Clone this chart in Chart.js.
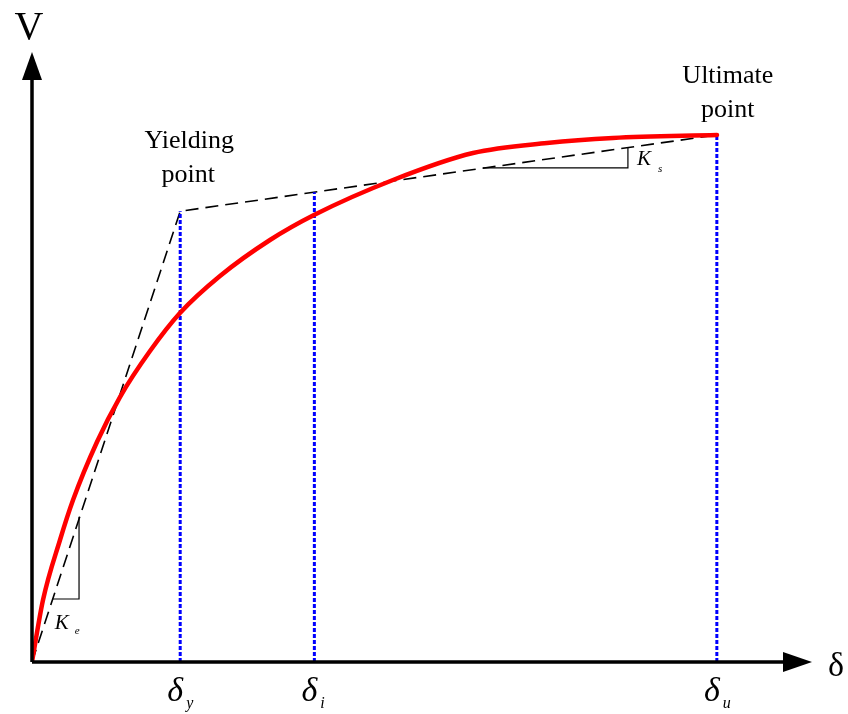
<!DOCTYPE html>
<html>
<head>
<meta charset="utf-8">
<script src="https://cdn.jsdelivr.net/npm/chart.js@4.4.1/dist/chart.umd.min.js"></script>
<style>
  html, body { margin: 0; padding: 0; background: #ffffff; }
  #wrap { width: 848px; height: 714px; position: relative; }
</style>
</head>
<body>
<div id="wrap"><canvas id="c" width="848" height="714"></canvas></div>
<script>
// ---- data (schematic units: delta 0..100, V 0..100) ----
const curveDelta = [0, 1.41, 3.59, 5.26, 8.33, 11.28, 15.13, 18.97, 24.10, 30.51, 36.15, 46.28, 56.54, 66.03, 74.49, 87.82];
const curveV     = [0, 10.16, 20.0, 26.56, 36.07, 43.44, 50.98, 57.21, 63.28, 69.18, 73.28, 79.02, 83.44, 85.08, 85.90, 86.39];

const bilinDelta = [0, 19.0, 87.8];
const bilinV     = [0, 73.9, 86.4];

const markDelta  = [19.0, 36.2, 87.8];       // delta_y, delta_i, delta_u
const markTopV   = [73.9, 77.0, 86.4];
const markNames  = ['y', 'i', 'u'];

const k1Delta = [2.65, 6.03, 6.03];
const k1V     = [10.33, 10.33, 23.8];
const k2Delta = [57.8, 76.4, 76.4];
const k2V     = [81.0, 81.0, 84.3];

const axisMaxDelta = 100;
const axisMaxV = 100;

const toXY = (xs, ys) => xs.map((x, i) => ({ x: x, y: ys[i] }));

const datasets = [
  {
    label: 'bilinear',
    data: toXY(bilinDelta, bilinV),
    showLine: true, borderColor: '#000000', borderWidth: 1.6,
    borderDash: [13, 7], pointRadius: 0, tension: 0, order: 3
  },
  {
    label: 'K1',
    data: toXY(k1Delta, k1V),
    showLine: true, borderColor: '#000000', borderWidth: 1.2,
    pointRadius: 0, tension: 0, order: 4
  },
  {
    label: 'K2',
    data: toXY(k2Delta, k2V),
    showLine: true, borderColor: '#000000', borderWidth: 1.2,
    pointRadius: 0, tension: 0, order: 4
  }
];
markDelta.forEach((d, i) => {
  datasets.push({
    label: 'mark ' + markNames[i],
    data: [{ x: d, y: 0 }, { x: d, y: markTopV[i] }],
    showLine: true, borderColor: '#0000ff', borderWidth: 3,
    borderDash: [4, 2], pointRadius: 0, tension: 0, order: 2
  });
});
datasets.push({
  label: 'curve',
  data: toXY(curveDelta, curveV),
  showLine: true, borderColor: '#ff0000', borderWidth: 4.5,
  pointRadius: 0, cubicInterpolationMode: 'monotone', order: 1,
  borderCapStyle: 'round'
});

const serif = '"Liberation Serif", "Times New Roman", serif';

const decor = {
  id: 'decor',
  afterDatasetsDraw(chart) {
    const ctx = chart.ctx;
    const xs = chart.scales.x, ys = chart.scales.y;
    const x0 = xs.getPixelForValue(0), y0 = ys.getPixelForValue(0);
    const xEnd = xs.getPixelForValue(axisMaxDelta), yEnd = ys.getPixelForValue(axisMaxV);
    ctx.save();
    // axes
    ctx.strokeStyle = '#000'; ctx.fillStyle = '#000'; ctx.lineWidth = 3.5;
    ctx.beginPath();
    ctx.moveTo(x0, y0); ctx.lineTo(x0, yEnd + 20);
    ctx.moveTo(x0, y0); ctx.lineTo(xEnd - 20, y0);
    ctx.stroke();
    // arrowheads
    ctx.beginPath();
    ctx.moveTo(x0, yEnd); ctx.lineTo(x0 - 10, yEnd + 28); ctx.lineTo(x0 + 10, yEnd + 28); ctx.closePath();
    ctx.fill();
    ctx.beginPath();
    ctx.moveTo(xEnd, y0); ctx.lineTo(xEnd - 29, y0 - 10); ctx.lineTo(xEnd - 29, y0 + 10); ctx.closePath();
    ctx.fill();

    // axis titles
    ctx.textAlign = 'center'; ctx.textBaseline = 'alphabetic';
    ctx.font = '40px ' + serif;
    ctx.fillText('V', x0 - 3, yEnd - 13);
    ctx.font = '34px ' + serif;
    ctx.fillText('δ', xEnd + 24, y0 + 14);

    // delta tick labels
    markDelta.forEach((d, i) => {
      const px = xs.getPixelForValue(d);
      ctx.font = 'italic 34px ' + serif;
      ctx.textAlign = 'center';
      ctx.fillText('δ', px - 5, y0 + 39);
      ctx.font = 'italic 16px ' + serif;
      ctx.textAlign = 'left';
      ctx.fillText(markNames[i], px + 6, y0 + 46);
    });

    // point labels
    ctx.font = '26px ' + serif;
    ctx.textAlign = 'center';
    const yx = xs.getPixelForValue(bilinDelta[1]);
    const yy = ys.getPixelForValue(bilinV[1]);
    ctx.fillText('Yielding', yx + 9, yy - 63);
    ctx.fillText('point', yx + 8, yy - 29);
    const ux = xs.getPixelForValue(bilinDelta[2]);
    const uy = ys.getPixelForValue(bilinV[2]);
    ctx.fillText('Ultimate', ux + 11, uy - 52);
    ctx.fillText('point', ux + 11, uy - 18);

    // stiffness labels
    const k1x = xs.getPixelForValue(k1Delta[0]);
    const k1y = ys.getPixelForValue(k1V[0]);
    ctx.textAlign = 'left';
    ctx.font = 'italic 21px ' + serif;
    ctx.fillText('K', k1x + 2, k1y + 30);
    ctx.font = 'italic 11px ' + serif;
    ctx.fillText('e', k1x + 22, k1y + 35);
    const k2x = xs.getPixelForValue(k2Delta[1]);
    const k2y = ys.getPixelForValue(k2V[2]);
    ctx.font = 'italic 21px ' + serif;
    ctx.fillText('K', k2x + 9, k2y + 17);
    ctx.font = 'italic 11px ' + serif;
    ctx.fillText('s', k2x + 30, k2y + 24);
    ctx.restore();
  }
};

new Chart(document.getElementById('c'), {
  type: 'scatter',
  data: { datasets: datasets },
  options: {
    responsive: false,
    animation: false,
    layout: { padding: { left: 32, right: 36, top: 52, bottom: 52 } },
    plugins: { legend: { display: false }, tooltip: { enabled: false } },
    scales: {
      x: { type: 'linear', min: 0, max: axisMaxDelta, display: false },
      y: { type: 'linear', min: 0, max: axisMaxV, display: false }
    }
  },
  plugins: [decor]
});
</script>
</body>
</html>
